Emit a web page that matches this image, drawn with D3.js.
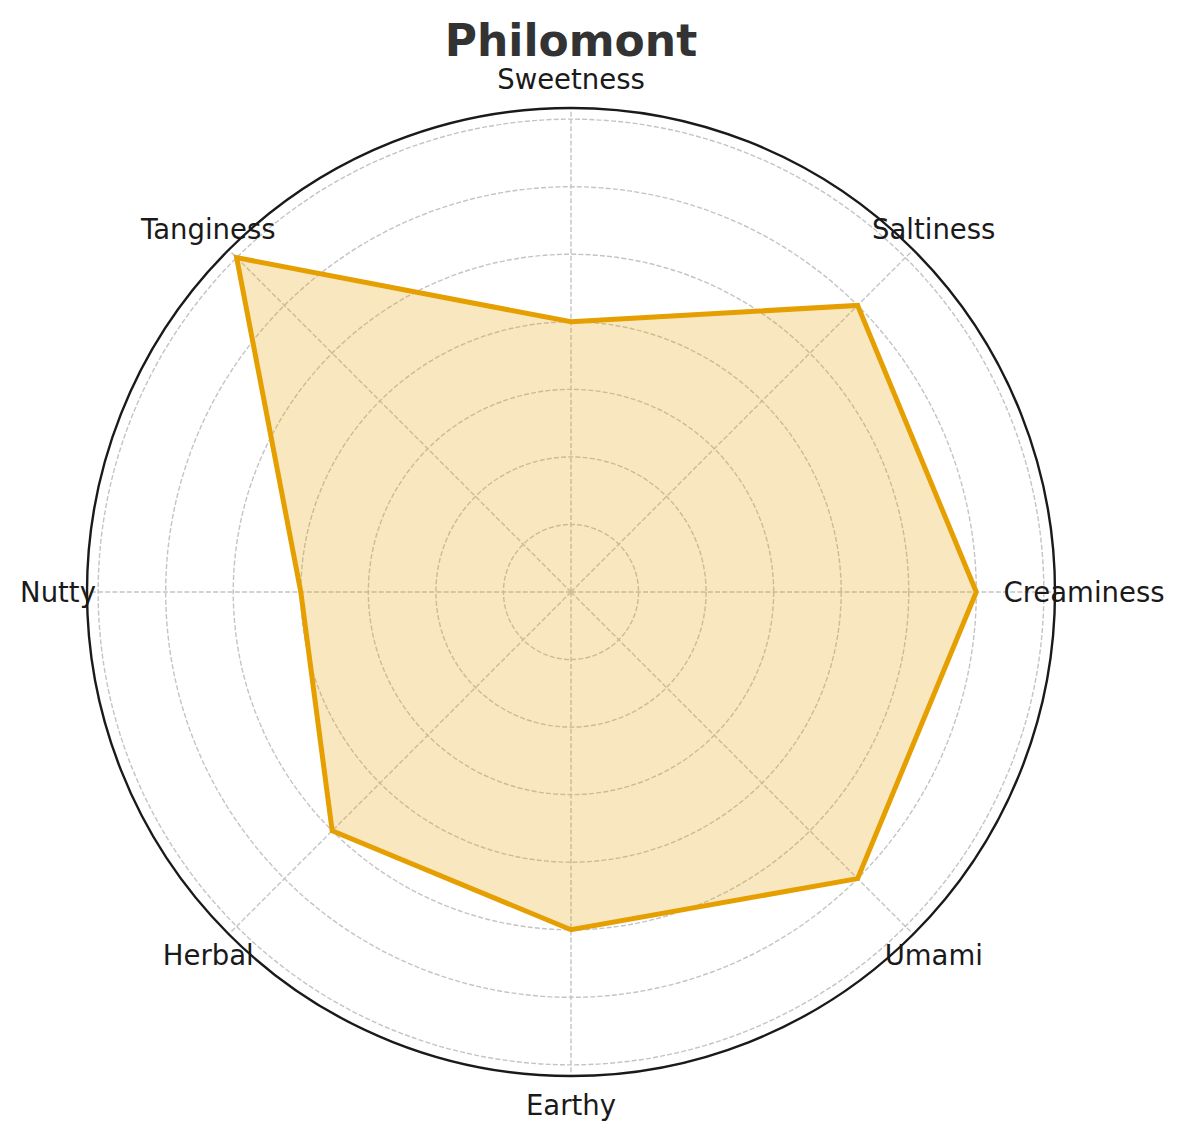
<!DOCTYPE html>
<html><head><meta charset="utf-8">
<script src="https://cdn.jsdelivr.net/npm/d3@7"></script>
<style>body{margin:0;background:#fff;}</style>
</head><body>
<svg id="chart" width="1186" height="1140"></svg>
<script>
const title = "Philomont";
const categories = ["Sweetness","Saltiness","Creaminess","Umami","Earthy","Herbal","Nutty","Tanginess"];
const values = [4,6,6,6,5,5,4,7];
const ringTicks = [1,2,3,4,5,6,7];
const rMaxValue = 7.165;

const svg = d3.select("#chart");
const cx = 571, cy = 592, R = 484;
const r = d3.scaleLinear().domain([0, rMaxValue]).range([0, R]);
const angle = d3.scaleLinear().domain([0, categories.length]).range([0, 2*Math.PI]);
const g = svg.append("g").attr("transform", `translate(${cx},${cy})`);

// rings
g.selectAll("circle.ring").data(ringTicks).join("circle")
  .attr("r", d => r(d)).attr("fill","none")
  .attr("stroke","#c4c4c4").attr("stroke-width",1.4).attr("stroke-dasharray","5,2.2");
// spokes
g.selectAll("line.spoke").data(categories).join("line")
  .attr("x1",0).attr("y1",0)
  .attr("x2",(d,i)=> R*Math.sin(angle(i))).attr("y2",(d,i)=> -R*Math.cos(angle(i)))
  .attr("stroke","#c4c4c4").attr("stroke-width",1.4).attr("stroke-dasharray","5,2.2");

// polygon
const line = d3.lineRadial().angle((d,i)=>angle(i)).radius(d=>r(d)).curve(d3.curveLinearClosed);
g.append("path").datum(values).attr("d", line)
  .attr("fill","#E69F00").attr("fill-opacity",0.25)
  .attr("stroke","#E69F00").attr("stroke-width",5).attr("stroke-linejoin","miter");

// outer circle
g.append("circle").attr("r",R).attr("fill","none").attr("stroke","#1a1a1a").attr("stroke-width",2.4);

// labels
const LR = 513;
g.selectAll("text.lab").data(categories).join("text")
  .attr("x",(d,i)=> LR*Math.sin(angle(i))).attr("y",(d,i)=> -LR*Math.cos(angle(i)))
  .attr("text-anchor","middle").attr("dominant-baseline","central")
  .attr("font-family","DejaVu Sans").attr("font-size",27.5).attr("fill","#1a1a1a")
  .text(d=>d);

svg.append("text").attr("x",571).attr("y",40).attr("text-anchor","middle")
  .attr("dominant-baseline","central")
  .attr("font-family","DejaVu Sans").attr("font-weight","bold").attr("font-size",44)
  .attr("fill","#333333").text(title);
</script>
</body></html>
